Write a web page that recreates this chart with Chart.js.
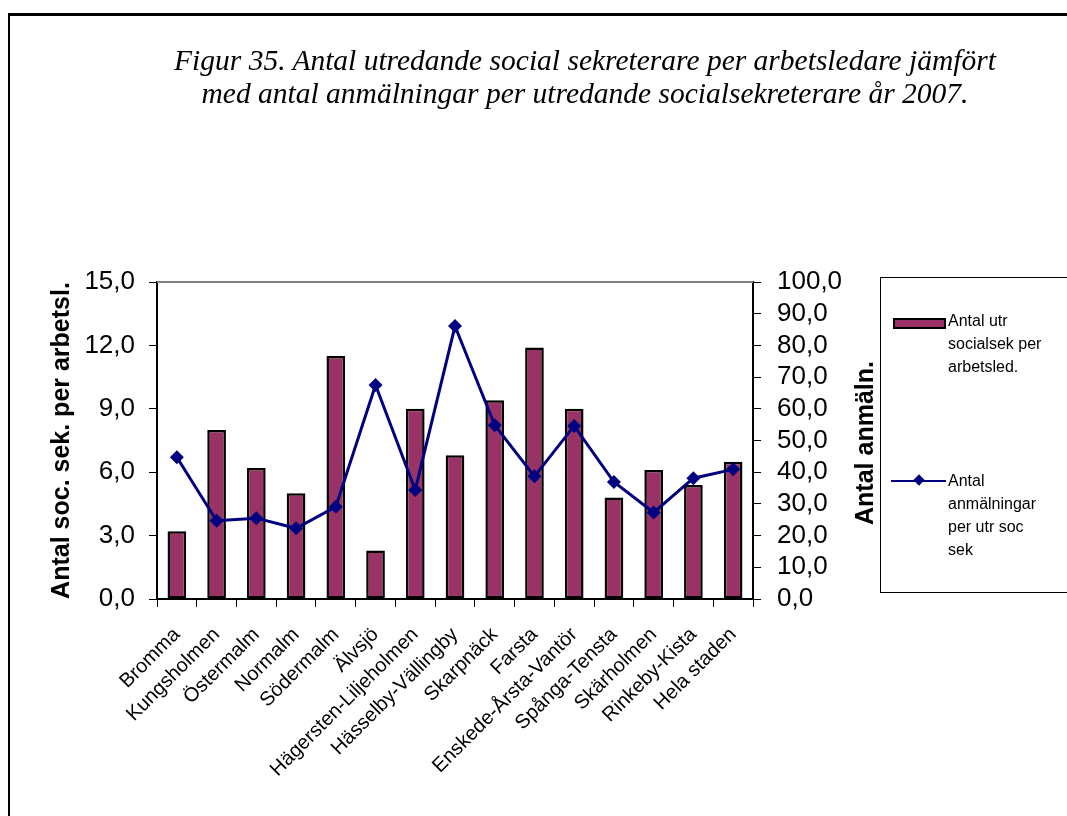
<!DOCTYPE html>
<html>
<head>
<meta charset="utf-8">
<script src="https://cdn.jsdelivr.net/npm/chart.js@4.4.0/dist/chart.umd.min.js"></script>
<style>
    body { margin: 0; background: #fff; }
    #ram { position: absolute; left: 8px; top: 13px; width: 1070px; height: 820px; border-top: 3px solid #000; border-left: 2px solid #000; }
    #rubrik { position: absolute; left: 85px; top: 44px; width: 1000px; text-align: center; font-family: "Liberation Serif", "Times New Roman", serif; font-style: italic; font-size: 29.5px; line-height: 33px; color: #000; }
    #grafik { position: absolute; left: 0; top: 0; }
    #hogerTitel { position: absolute; left: 864px; top: 443px; transform: translate(-50%, -50%) rotate(-90deg); font-family: Arial, "Liberation Sans", sans-serif; font-weight: bold; font-size: 25px; white-space: nowrap; }
    #forklaring { position: absolute; left: 880px; top: 277px; width: 200px; height: 314px; border: 1px solid #000; font-family: Arial, "Liberation Sans", sans-serif; font-size: 16px; line-height: 23px; }
    .post { position: absolute; left: 0; }
    .post .symbol { position: absolute; left: 11px; width: 55px; height: 12px; }
    .post .text { position: absolute; left: 67px; width: 130px; }
</style>
</head>
<body>
<div id="ram"></div>
<div id="rubrik">Figur 35. Antal utredande social sekreterare per arbetsledare jämfört<br>med antal anmälningar per utredande socialsekreterare år 2007.</div>
<canvas id="GraficoStadsdelar" width="1067" height="816"></canvas>
<div id="hogerTitel">Antal anmäln.</div>
<div id="forklaring"></div>

<script>
var stadsdelar = ["Bromma", "Kungsholmen", "Östermalm", "Normalm", "Södermalm", "Älvsjö",
    "Hägersten-Liljeholmen", "Hässelby-Vällingby", "Skarpnäck", "Farsta", "Enskede-Årsta-Vantör",
    "Spånga-Tensta", "Skärholmen", "Rinkeby-Kista", "Hela staden"];
var utrPerArbetsled = [3.2, 8.0, 6.2, 5.0, 11.5, 2.3, 9.0, 6.8, 9.4, 11.9, 9.0, 4.8, 6.1, 5.4, 6.5];
var anmalningarPerUtr = [44.7, 24.7, 25.5, 22.3, 29.1, 67.5, 34.4, 86.1, 54.8, 38.7, 54.6, 36.9, 27.3, 38.1, 40.9];
var vansterTicks = [0, 3, 6, 9, 12, 15];
var hogerTicks = [0, 10, 20, 30, 40, 50, 60, 70, 80, 90, 100];

var stapelLabel = "Antal utr socialsek per arbetsled.";
var linjeLabel = "Antal anmälningar per utr soc sek";

function komma(v) {
    return Number(v).toFixed(1).replace(".", ",");
}

var teckensnitt = "Arial, 'Liberation Sans', sans-serif";

var ramOvre = {
    id: "ramOvre",
    afterDraw: function (chart) {
        var c = chart.ctx, a = chart.chartArea;
        c.save();
        c.strokeStyle = "#808080";
        c.lineWidth = 2;
        c.beginPath();
        c.moveTo(a.left, a.top);
        c.lineTo(a.right, a.top);
        c.stroke();
        c.restore();
    }
};

var ctx = document.getElementById("GraficoStadsdelar").getContext("2d");
var grafico = new Chart(ctx, {
    type: "bar",
    data: {
        labels: stadsdelar,
        datasets: [
            {
                type: "line",
                label: linjeLabel,
                data: anmalningarPerUtr,
                yAxisID: "y1",
                borderColor: "#000080",
                backgroundColor: "#000080",
                borderWidth: 3,
                pointStyle: "rectRot",
                pointRadius: 7,
                pointBorderWidth: 0,
                tension: 0,
                order: 1
            },
            {
                type: "bar",
                label: stapelLabel,
                data: utrPerArbetsled,
                yAxisID: "y",
                backgroundColor: "#993366",
                borderColor: "#000000",
                borderWidth: 2.5,
                borderSkipped: false,
                categoryPercentage: 1,
                barPercentage: 0.47,
                order: 2
            }
        ]
    },
    options: {
        responsive: false,
        animation: false,
        layout: { padding: { left: 47, right: 0, top: 282, bottom: 0 } },
        plugins: {
            legend: { display: false },
            tooltip: { enabled: false },
            title: { display: false }
        },
        scales: {
            x: {
                grid: { drawOnChartArea: false, color: "#000", tickLength: 8, offset: true },
                border: { color: "#000", width: 2 },
                ticks: {
                    color: "#000",
                    font: { family: teckensnitt, size: 20 },
                    autoSkip: false,
                    maxRotation: 45,
                    minRotation: 45,
                    padding: 16
                },
                afterFit: function (s) { s.height = 217; }
            },
            y: {
                position: "left",
                min: 0,
                max: 15,
                afterBuildTicks: function (s) { s.ticks = vansterTicks.map(function (v) { return { value: v }; }); },
                grid: { drawOnChartArea: false, color: "#000", tickLength: 8 },
                border: { color: "#000", width: 2 },
                ticks: {
                    color: "#000",
                    font: { family: teckensnitt, size: 26 },
                    padding: 14,
                    autoSkip: false,
                    callback: function (v) { return komma(v); }
                },
                title: {
                    display: true,
                    text: "Antal soc. sek. per arbetsl.",
                    color: "#000",
                    font: { family: teckensnitt, size: 25, weight: "bold" },
                    padding: { top: 0, bottom: 0 }
                },
                afterFit: function (s) { s.width = 110; }
            },
            y1: {
                position: "right",
                min: 0,
                max: 100,
                afterBuildTicks: function (s) { s.ticks = hogerTicks.map(function (v) { return { value: v }; }); },
                grid: { drawOnChartArea: false, color: "#000", tickLength: 8 },
                border: { color: "#000", width: 2 },
                ticks: {
                    color: "#000",
                    font: { family: teckensnitt, size: 26 },
                    padding: 16,
                    autoSkip: false,
                    callback: function (v) { return komma(v); }
                },
                afterFit: function (s) { s.width = 314; }
            }
        }
    },
    plugins: [ramOvre]
});

// förklaring byggd av datasetens etiketter
var forklaring = document.getElementById("forklaring");
var stapelPost = document.createElement("div");
stapelPost.className = "post";
stapelPost.style.top = "31px";
stapelPost.innerHTML = '<div class="symbol" style="top:9px;height:7px;width:49px;background:#993366;border:2px solid #000;left:12px"></div>' +
    '<div class="text">' + "Antal utr<br>socialsek per<br>arbetsled." + '</div>';
forklaring.appendChild(stapelPost);

var linjePost = document.createElement("div");
linjePost.className = "post";
linjePost.style.top = "191px";
linjePost.innerHTML = '<div class="symbol" style="top:11px;height:2px;background:#000080;left:10px"></div>' +
    '<div class="symbol" style="top:7px;left:34px;width:8px;height:8px;background:#000080;transform:rotate(45deg)"></div>' +
    '<div class="text">' + "Antal<br>anmälningar<br>per utr soc<br>sek" + '</div>';
forklaring.appendChild(linjePost);
</script>
</body>
</html>
